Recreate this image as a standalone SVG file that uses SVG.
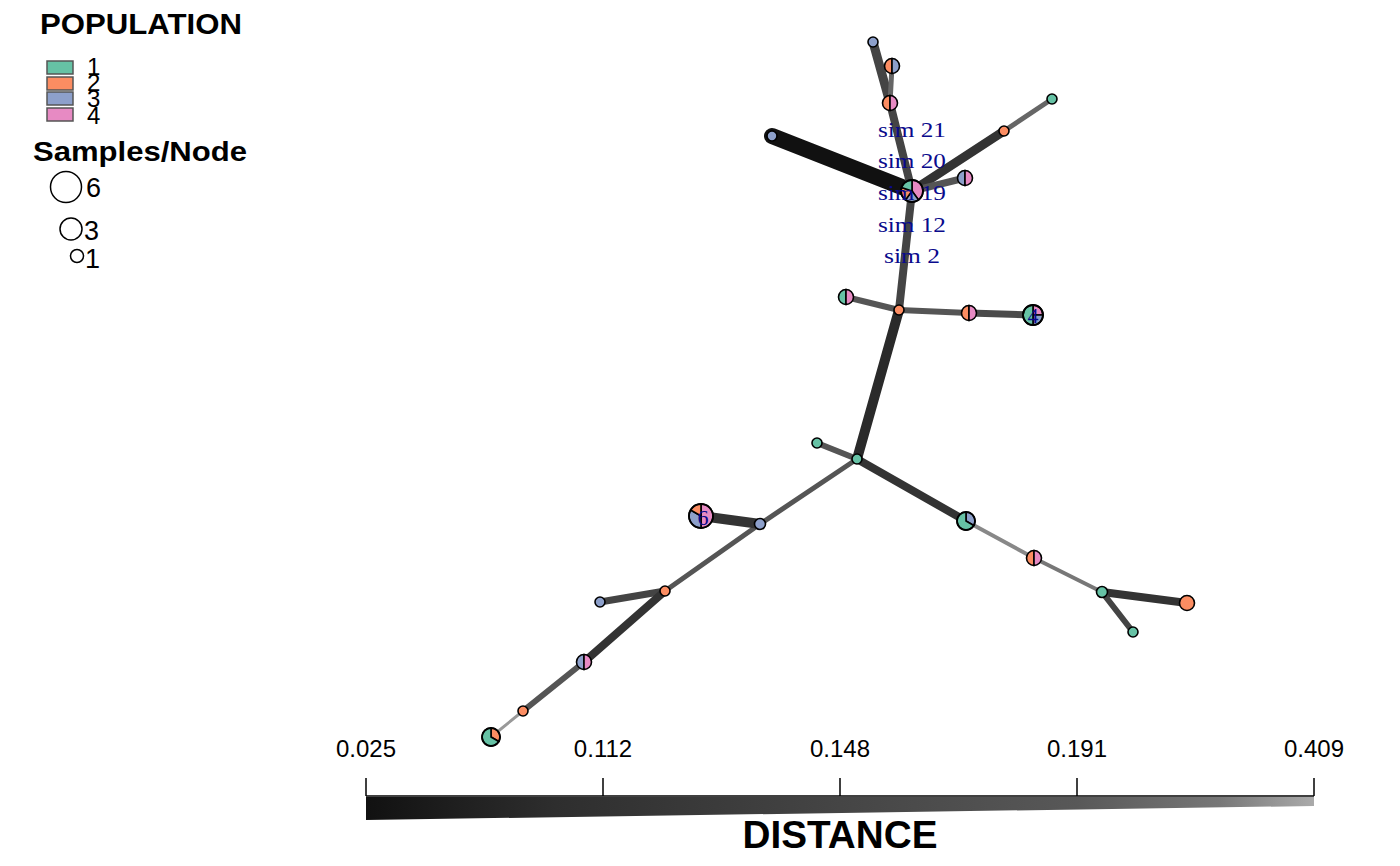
<svg xmlns="http://www.w3.org/2000/svg" xmlns:xlink="http://www.w3.org/1999/xlink" width="1400" height="866" viewBox="0 0 1400 866">
<defs>
<style>
.sans{font-family:"Liberation Sans",Arial,sans-serif;fill:#000}
.bold{font-weight:bold}
.lbl{font-family:"Liberation Serif","Times New Roman",serif;fill:#0a0a8c;font-size:22px;text-anchor:middle}
.e{fill:none;stroke-linecap:round}
.n{stroke:#000;stroke-width:1.6}
.g{fill:#66C2A5}.o{fill:#FC8D62}.b{fill:#8DA0CB}.p{fill:#E78AC3}
.ring{fill:none;stroke:#000;stroke-width:1.8}
.leg{stroke:#555;stroke-width:1.5}
</style>
<linearGradient id="dist" x1="0" y1="0" x2="1" y2="0">
<stop offset="0" stop-color="#111"/>
<stop offset="0.2" stop-color="#2e2e2e"/>
<stop offset="0.5" stop-color="#454545"/>
<stop offset="0.75" stop-color="#585858"/>
<stop offset="0.9" stop-color="#777"/>
<stop offset="1" stop-color="#aaa"/>
</linearGradient>
<path id="hl" d="M0,-7.5 A7.5,7.5 0 0 0 0,7.5 Z"/>
<path id="hr" d="M0,-7.5 A7.5,7.5 0 0 1 0,7.5 Z"/>
</defs>
<rect width="1400" height="866" fill="#fff"/>

<g id="legend">
<text class="sans bold" x="141" y="34" font-size="29" text-anchor="middle" textLength="202" lengthAdjust="spacingAndGlyphs">POPULATION</text>
<rect class="leg g" x="47" y="61" width="26" height="13"/>
<rect class="leg o" x="47" y="77" width="26" height="13"/>
<rect class="leg b" x="47" y="92" width="26" height="13"/>
<rect class="leg p" x="47" y="108" width="26" height="13"/>
<text class="sans" x="87" y="75" font-size="24">1</text>
<text class="sans" x="87" y="91" font-size="24">2</text>
<text class="sans" x="87" y="107" font-size="24">3</text>
<text class="sans" x="87" y="124" font-size="24">4</text>
<text class="sans bold" x="140" y="161" font-size="27" text-anchor="middle" textLength="214" lengthAdjust="spacingAndGlyphs">Samples/Node</text>
<circle cx="66" cy="187" r="15.5" fill="none" stroke="#000" stroke-width="1.5"/>
<text class="sans" x="86" y="197" font-size="27">6</text>
<circle cx="71" cy="229" r="11" fill="none" stroke="#000" stroke-width="1.5"/>
<text class="sans" x="84" y="240" font-size="27">3</text>
<circle cx="77" cy="256" r="6.5" fill="none" stroke="#000" stroke-width="1.5"/>
<text class="sans" x="85" y="268" font-size="27">1</text>
</g>

<g id="connectors">
<line class="e" x1="772" y1="136" x2="912" y2="191" stroke="#111" stroke-width="16"/>
<line class="e" x1="873" y1="42" x2="890" y2="103" stroke="#444" stroke-width="9"/>
<line class="e" x1="892" y1="66" x2="890" y2="103" stroke="#666" stroke-width="5"/>
<line class="e" x1="890" y1="103" x2="912" y2="191" stroke="#444" stroke-width="8"/>
<line class="e" x1="912" y1="191" x2="1004" y2="131" stroke="#333" stroke-width="9"/>
<line class="e" x1="1004" y1="131" x2="1052" y2="99" stroke="#666" stroke-width="5"/>
<line class="e" x1="912" y1="191" x2="965" y2="178" stroke="#555" stroke-width="7"/>
<line class="e" x1="912" y1="191" x2="899" y2="310" stroke="#444" stroke-width="8"/>
<line class="e" x1="899" y1="310" x2="846" y2="297" stroke="#555" stroke-width="6"/>
<line class="e" x1="899" y1="310" x2="969" y2="313" stroke="#555" stroke-width="6"/>
<line class="e" x1="969" y1="313" x2="1033" y2="315" stroke="#4a4a4a" stroke-width="7"/>
<line class="e" x1="899" y1="310" x2="857" y2="459" stroke="#2a2a2a" stroke-width="10"/>
<line class="e" x1="857" y1="459" x2="817" y2="443" stroke="#555" stroke-width="6"/>
<line class="e" x1="857" y1="459" x2="966" y2="521" stroke="#333" stroke-width="8"/>
<line class="e" x1="966" y1="521" x2="1034" y2="558" stroke="#888" stroke-width="4"/>
<line class="e" x1="1034" y1="558" x2="1102" y2="592" stroke="#777" stroke-width="4"/>
<line class="e" x1="1102" y1="592" x2="1187" y2="603" stroke="#333" stroke-width="8"/>
<line class="e" x1="1102" y1="592" x2="1133" y2="632" stroke="#444" stroke-width="6"/>
<line class="e" x1="857" y1="459" x2="760" y2="524" stroke="#555" stroke-width="5"/>
<line class="e" x1="760" y1="524" x2="665" y2="591" stroke="#555" stroke-width="5"/>
<line class="e" x1="760" y1="524" x2="701" y2="516" stroke="#333" stroke-width="10"/>
<line class="e" x1="665" y1="591" x2="600" y2="602" stroke="#444" stroke-width="7"/>
<line class="e" x1="665" y1="591" x2="584" y2="662" stroke="#333" stroke-width="8"/>
<line class="e" x1="584" y1="662" x2="523" y2="711" stroke="#555" stroke-width="6"/>
<line class="e" x1="523" y1="711" x2="491" y2="737" stroke="#999" stroke-width="3"/>
</g>

<g id="nodes">
<g id="nA"><circle class="n b" cx="873" cy="42" r="5"/></g>
<g id="nB" transform="translate(892,66)"><use xlink:href="#hl" class="n o"/><use xlink:href="#hr" class="n b"/></g>
<g id="nC" transform="translate(890,103)"><use xlink:href="#hl" class="n o"/><use xlink:href="#hr" class="n p"/></g>
<g id="nD"><circle class="n b" cx="772" cy="136" r="5"/></g>
<g id="nE"><circle class="n g" cx="1052" cy="99" r="5"/></g>
<g id="nF"><circle class="n o" cx="1004" cy="131" r="5"/></g>
<g id="nG" transform="translate(965,178)"><use xlink:href="#hl" class="n b"/><use xlink:href="#hr" class="n p"/></g>
<g id="nH">
<path class="n p" d="M912,191 L912,180 A11,11 0 0 1 918.47,199.9 Z"/>
<path class="n b" d="M912,191 L918.47,199.9 A11,11 0 0 1 905.53,199.9 Z"/>
<path class="n o" d="M912,191 L905.53,199.9 A11,11 0 0 1 901.54,187.6 Z"/>
<path class="n g" d="M912,191 L901.54,187.6 A11,11 0 0 1 912,180 Z"/>
<circle class="ring" cx="912" cy="191" r="11"/>
</g>
<g id="nI" transform="translate(846,297)"><use xlink:href="#hl" class="n g"/><use xlink:href="#hr" class="n p"/></g>
<g id="nJ"><circle class="n o" cx="899" cy="310" r="5"/></g>
<g id="nK" transform="translate(969,313)"><use xlink:href="#hl" class="n o"/><use xlink:href="#hr" class="n p"/></g>
<g id="nL">
<path class="n p" d="M1033,315 L1033,305 A10,10 0 0 1 1043,315 Z"/>
<path class="n b" d="M1033,315 L1043,315 A10,10 0 0 1 1033,325 Z"/>
<path class="n g" d="M1033,315 L1033,325 A10,10 0 0 1 1033,305 Z"/>
<circle class="ring" cx="1033" cy="315" r="10"/>
<text class="lbl" x="1033" y="323" font-size="23">4</text>
</g>
<g id="nM"><circle class="n g" cx="857" cy="459" r="5"/></g>
<g id="nN"><circle class="n g" cx="817" cy="443" r="5"/></g>
<g id="nO"><circle class="n b" cx="760" cy="524" r="5.5"/></g>
<g id="nP">
<path class="n p" d="M701,516 L701,504 A12,12 0 0 1 701,528 Z"/>
<path class="n b" d="M701,516 L701,528 A12,12 0 0 1 690.61,510 Z"/>
<path class="n o" d="M701,516 L690.61,510 A12,12 0 0 1 701,504 Z"/>
<circle class="ring" cx="701" cy="516" r="12"/>
<text class="lbl" x="703" y="525" font-size="25">6</text>
</g>
<g id="nQ">
<path class="n b" d="M966,521 L966,512 A9,9 0 0 1 973.79,525.5 Z"/>
<path class="n g" d="M966,521 L973.79,525.5 A9,9 0 1 1 966,512 Z"/>
<circle class="ring" cx="966" cy="521" r="9"/>
</g>
<g id="nR" transform="translate(1034,558)"><use xlink:href="#hl" class="n o"/><use xlink:href="#hr" class="n p"/></g>
<g id="nS"><circle class="n g" cx="1102" cy="592" r="5.5"/></g>
<g id="nT"><circle class="n o" cx="1187" cy="603" r="7.5"/></g>
<g id="nU"><circle class="n g" cx="1133" cy="632" r="5"/></g>
<g id="nV"><circle class="n o" cx="665" cy="591" r="5"/></g>
<g id="nW"><circle class="n b" cx="600" cy="602" r="5"/></g>
<g id="nX" transform="translate(584,662)"><use xlink:href="#hl" class="n b"/><use xlink:href="#hr" class="n p"/></g>
<g id="nY"><circle class="n o" cx="523" cy="711" r="5"/></g>
<g id="nZ">
<path class="n o" d="M491,737 L491,728 A9,9 0 0 1 498.79,741.5 Z"/>
<path class="n g" d="M491,737 L498.79,741.5 A9,9 0 1 1 491,728 Z"/>
<circle class="ring" cx="491" cy="737" r="9"/>
</g>
</g>

<g id="labels">
<text class="lbl" x="912" y="137" textLength="68" lengthAdjust="spacingAndGlyphs">sim 21</text>
<text class="lbl" x="912" y="168" textLength="68" lengthAdjust="spacingAndGlyphs">sim 20</text>
<text class="lbl" x="912" y="200" textLength="68" lengthAdjust="spacingAndGlyphs">sim 19</text>
<text class="lbl" x="912" y="232" textLength="68" lengthAdjust="spacingAndGlyphs">sim 12</text>
<text class="lbl" x="912" y="263" textLength="56" lengthAdjust="spacingAndGlyphs">sim 2</text>
</g>

<g id="scale">
<polygon points="366,797 1314,797 1314,806 366,820" fill="url(#dist)"/>
<line x1="366" y1="796" x2="1314" y2="796" stroke="#000" stroke-width="1.5"/>
<g stroke="#000" stroke-width="1.5">
<line x1="366" y1="778" x2="366" y2="796"/>
<line x1="603" y1="778" x2="603" y2="796"/>
<line x1="840" y1="778" x2="840" y2="796"/>
<line x1="1077" y1="778" x2="1077" y2="796"/>
<line x1="1314" y1="778" x2="1314" y2="796"/>
</g>
<g class="sans" font-size="24" text-anchor="middle">
<text x="366" y="757">0.025</text>
<text x="603" y="757">0.112</text>
<text x="840" y="757">0.148</text>
<text x="1077" y="757">0.191</text>
<text x="1314" y="757">0.409</text>
</g>
<text class="sans bold" x="840" y="848" font-size="38" text-anchor="middle" textLength="195" lengthAdjust="spacingAndGlyphs">DISTANCE</text>
</g>
</svg>
